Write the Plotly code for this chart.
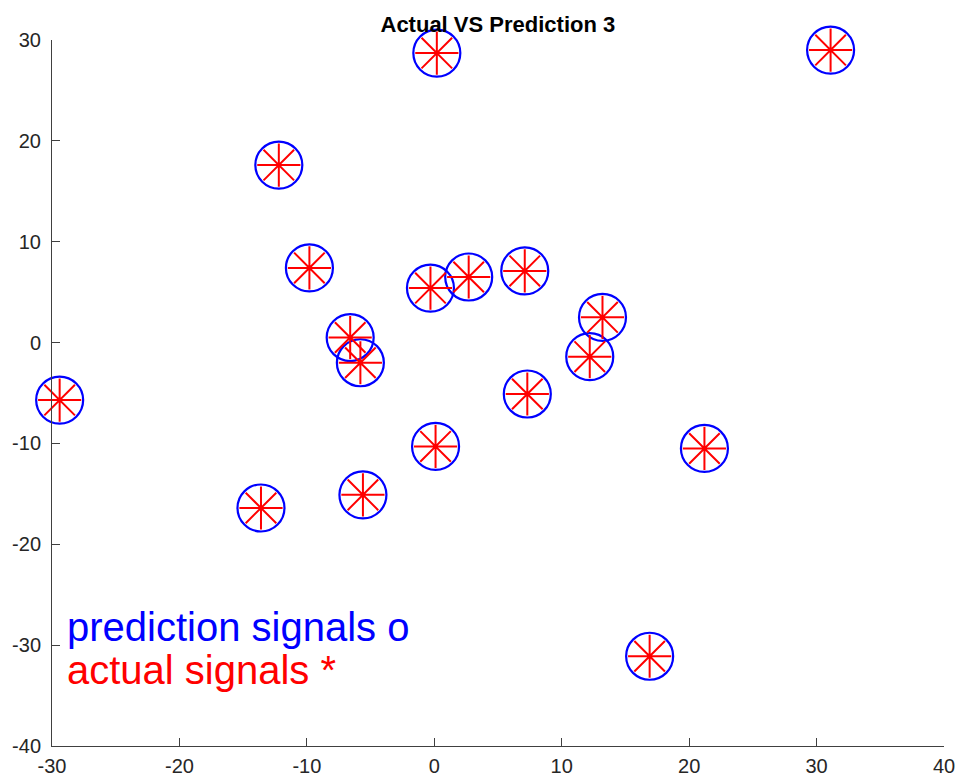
import plotly.graph_objects as go

# Predicted signal positions (blue circles)
pred_x = [-29.4, -13.6, -5.6, 0.1, 7.3, 21.2, 16.9, 12.2, 13.2, 7.1, 2.7, -0.3, -9.8, -12.2, -6.6, -5.8, 0.2, 31.1]
pred_y = [-5.7, -16.4, -15.1, -10.3, -5.1, -10.5, -31.1, -1.4, 2.5, 7.1, 6.5, 5.4, 7.4, 17.6, 0.5, -2.0, 28.7, 29.0]
# Actual signal positions (red asterisks)
act_x = [-29.4, -13.6, -5.6, 0.1, 7.3, 21.2, 16.9, 12.2, 13.2, 7.1, 2.7, -0.3, -9.8, -12.2, -6.6, -5.8, 0.2, 31.1]
act_y = [-5.7, -16.4, -15.1, -10.3, -5.1, -10.5, -31.1, -1.4, 2.5, 7.1, 6.5, 5.4, 7.4, 17.6, 0.5, -2.0, 28.7, 29.0]

x_ticks = [-30, -20, -10, 0, 10, 20, 30, 40]
y_ticks = [-40, -30, -20, -10, 0, 10, 20, 30]

title_text = "Actual VS Prediction 3"
legend_lines = ["prediction signals o", "actual signals *"]

FONT = "Liberation Sans, Arial, Helvetica, sans-serif"
AXC = "#404040"

fig = go.Figure()
fig.add_trace(go.Scatter(
    x=pred_x, y=pred_y, mode="markers", cliponaxis=False, showlegend=False,
    marker=dict(symbol="circle-open", size=47, color="#0000ff", line=dict(width=2.2, color="#0000ff")),
))
fig.add_trace(go.Scatter(
    x=act_x, y=act_y, mode="markers", cliponaxis=False, showlegend=False,
    marker=dict(symbol="asterisk-open", size=36, color="#ff0000", line=dict(width=2, color="#ff0000")),
))

fig.add_annotation(x=-29, y=-28.2, xref="x", yref="y", text=legend_lines[0], showarrow=False,
                   xanchor="left", yanchor="middle", font=dict(family=FONT, size=40, color="#0000ff"))
fig.add_annotation(x=-29, y=-32.5, xref="x", yref="y", text=legend_lines[1], showarrow=False,
                   xanchor="left", yanchor="middle", font=dict(family=FONT, size=40, color="#ff0000"))

fig.update_layout(
    width=963, height=781,
    margin=dict(l=52, r=19, t=40, b=35, autoexpand=False),
    paper_bgcolor="white", plot_bgcolor="white",
    font=dict(family=FONT, color="#262626"),
    title=dict(text="<b>" + title_text + "</b>", x=0.517, xanchor="center", y=0.969, yanchor="middle",
               font=dict(family=FONT, size=22, color="#000000")),
    xaxis=dict(range=[-30, 40], tickvals=x_ticks, ticktext=[str(v) for v in x_ticks], automargin=False,
               showgrid=False, zeroline=False, showline=True, linecolor=AXC, linewidth=1,
               ticks="inside", ticklen=8, tickcolor=AXC, tickwidth=1, mirror=False,
               tickfont=dict(family=FONT, size=20, color="#262626"), ticklabelstandoff=2),
    yaxis=dict(range=[-40, 30], tickvals=y_ticks, ticktext=[str(v) for v in y_ticks], automargin=False,
               showgrid=False, zeroline=False, showline=True, linecolor=AXC, linewidth=1,
               ticks="inside", ticklen=8, tickcolor=AXC, tickwidth=1, mirror=False,
               tickfont=dict(family=FONT, size=20, color="#262626"), ticklabelstandoff=6),
)

fig.write_html("out.html")
